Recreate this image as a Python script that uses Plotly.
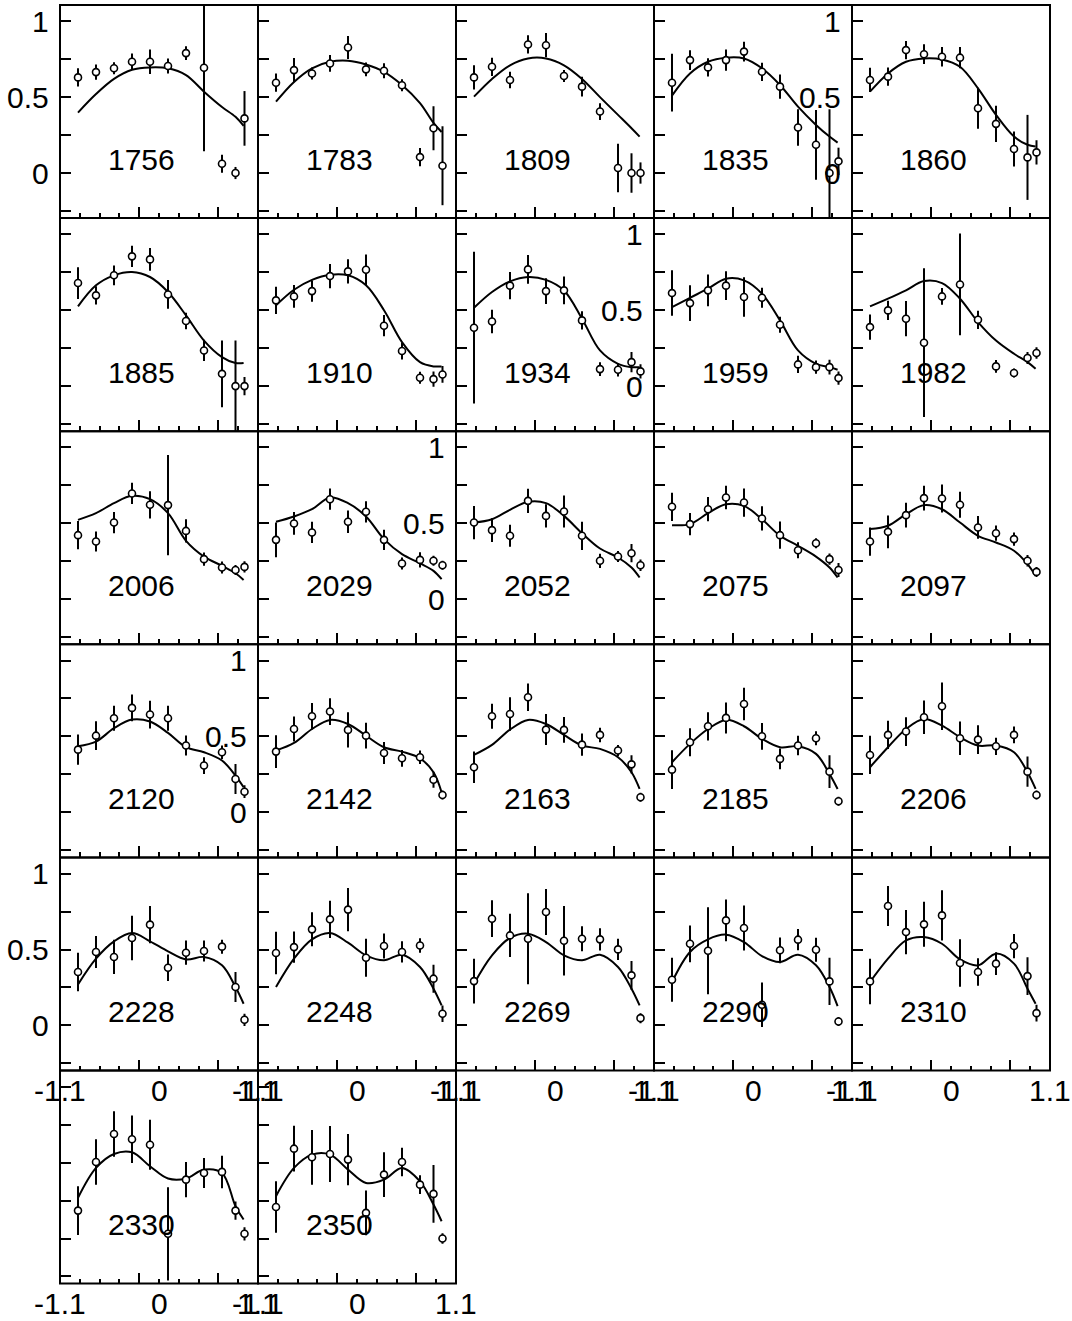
import plotly.graph_objects as go

# Beam energies (MeV) shown in each panel, in reading order
energies = [1756, 1783, 1809, 1835, 1860,
            1885, 1910, 1934, 1959, 1982,
            2006, 2029, 2052, 2075, 2097,
            2120, 2142, 2163, 2185, 2206,
            2228, 2248, 2269, 2290, 2310,
            2330, 2350]

# cos(theta) bin centres of the measured points and of the fit curve samples
cos_bins = [-0.9, -0.7, -0.5, -0.3, -0.1, 0.1, 0.3, 0.5, 0.7, 0.85, 0.95]
fit_x = [-0.9, -0.7, -0.5, -0.3, -0.1, 0.1, 0.3, 0.5, 0.7, 0.85, 0.94]

# measured values (y), uncertainties (e) and fit curve samples (f)
y1756 = [0.63, 0.665, 0.69, 0.733, 0.733, 0.705, 0.79, 0.694, 0.061, 0.0, 0.36]
e1756 = [0.06, 0.05, 0.04, 0.055, 0.08, 0.05, 0.045, 0.55, 0.06, 0.04, 0.18]
f1756 = [0.398, 0.52, 0.62, 0.68, 0.696, 0.69, 0.645, 0.536, 0.435, 0.37, 0.31]

y1783 = [0.595, 0.678, 0.656, 0.722, 0.827, 0.683, 0.674, 0.578, 0.105, 0.295, 0.048]
e1783 = [0.06, 0.08, 0.04, 0.055, 0.075, 0.045, 0.05, 0.04, 0.06, 0.145, 0.26]
f1783 = [0.47, 0.60, 0.69, 0.733, 0.74, 0.715, 0.667, 0.58, 0.46, 0.33, 0.27]

y1809 = [0.63, 0.70, 0.613, 0.847, 0.842, 0.639, 0.569, 0.405, 0.033, 0.0, 0.0]
e1809 = [0.08, 0.06, 0.055, 0.06, 0.08, 0.04, 0.065, 0.055, 0.16, 0.13, 0.07]
f1809 = [0.503, 0.62, 0.71, 0.755, 0.755, 0.71, 0.62, 0.50, 0.383, 0.295, 0.24]

y1835 = [0.595, 0.744, 0.696, 0.744, 0.80, 0.667, 0.569, 0.30, 0.186, 0.0, 0.077]
e1835 = [0.19, 0.065, 0.06, 0.07, 0.065, 0.06, 0.08, 0.12, 0.23, 0.42, 0.09]
f1835 = [0.51, 0.656, 0.733, 0.76, 0.755, 0.69, 0.58, 0.437, 0.317, 0.24, 0.20]

y1860 = [0.613, 0.635, 0.81, 0.783, 0.766, 0.76, 0.427, 0.324, 0.158, 0.103, 0.136]
e1860 = [0.08, 0.06, 0.06, 0.065, 0.065, 0.07, 0.135, 0.12, 0.115, 0.28, 0.08]
f1860 = [0.536, 0.656, 0.733, 0.755, 0.748, 0.70, 0.558, 0.383, 0.24, 0.186, 0.175]

y1885 = [0.679, 0.598, 0.73, 0.855, 0.835, 0.604, 0.429, 0.235, 0.081, 0.0, 0.0]
e1885 = [0.105, 0.06, 0.065, 0.07, 0.075, 0.095, 0.055, 0.07, 0.22, 0.30, 0.06]
f1885 = [0.525, 0.664, 0.73, 0.752, 0.719, 0.62, 0.466, 0.30, 0.191, 0.152, 0.152]

y1910 = [0.565, 0.591, 0.626, 0.725, 0.756, 0.767, 0.398, 0.231, 0.055, 0.046, 0.077]
e1910 = [0.09, 0.075, 0.07, 0.08, 0.08, 0.10, 0.07, 0.055, 0.04, 0.05, 0.055]
f1910 = [0.532, 0.635, 0.70, 0.734, 0.73, 0.664, 0.50, 0.29, 0.158, 0.13, 0.13]

y1934 = [0.385, 0.426, 0.662, 0.769, 0.626, 0.631, 0.433, 0.112, 0.108, 0.158, 0.097]
e1934 = [0.50, 0.077, 0.09, 0.095, 0.085, 0.092, 0.06, 0.046, 0.044, 0.066, 0.047]
f1934 = [0.516, 0.62, 0.69, 0.719, 0.70, 0.63, 0.444, 0.235, 0.147, 0.125, 0.125]

y1959 = [0.613, 0.547, 0.631, 0.662, 0.587, 0.582, 0.404, 0.143, 0.125, 0.125, 0.053]
e1959 = [0.15, 0.118, 0.105, 0.095, 0.13, 0.066, 0.053, 0.057, 0.044, 0.048, 0.044]
f1959 = [0.521, 0.582, 0.642, 0.708, 0.697, 0.609, 0.433, 0.235, 0.147, 0.125, 0.108]

y1982 = [0.389, 0.499, 0.444, 0.286, 0.591, 0.67, 0.437, 0.13, 0.086, 0.185, 0.218]
e1982 = [0.083, 0.064, 0.116, 0.49, 0.055, 0.335, 0.06, 0.042, 0.03, 0.04, 0.038]
f1982 = [0.525, 0.576, 0.631, 0.692, 0.679, 0.576, 0.422, 0.30, 0.213, 0.158, 0.114]

y2006 = [0.422, 0.38, 0.505, 0.697, 0.622, 0.62, 0.45, 0.264, 0.209, 0.193, 0.213]
e2006 = [0.093, 0.066, 0.07, 0.07, 0.09, 0.33, 0.077, 0.044, 0.04, 0.033, 0.037]
f2006 = [0.523, 0.567, 0.633, 0.681, 0.659, 0.567, 0.385, 0.281, 0.22, 0.171, 0.127]

y2029 = [0.391, 0.499, 0.44, 0.659, 0.51, 0.576, 0.391, 0.235, 0.259, 0.253, 0.224]
e2029 = [0.115, 0.075, 0.07, 0.07, 0.074, 0.07, 0.067, 0.04, 0.05, 0.033, 0.03]
f2029 = [0.51, 0.545, 0.593, 0.67, 0.633, 0.545, 0.396, 0.297, 0.237, 0.187, 0.132]

y2052 = [0.505, 0.455, 0.418, 0.648, 0.549, 0.578, 0.418, 0.253, 0.281, 0.303, 0.224]
e2052 = [0.11, 0.078, 0.073, 0.08, 0.077, 0.106, 0.093, 0.047, 0.036, 0.06, 0.038]
f2052 = [0.505, 0.527, 0.589, 0.642, 0.633, 0.549, 0.435, 0.334, 0.275, 0.209, 0.143]

y2075 = [0.609, 0.495, 0.593, 0.67, 0.637, 0.532, 0.422, 0.323, 0.369, 0.264, 0.193]
e2075 = [0.093, 0.073, 0.08, 0.077, 0.093, 0.08, 0.09, 0.053, 0.033, 0.037, 0.046]
f2075 = [0.488, 0.495, 0.567, 0.626, 0.615, 0.527, 0.418, 0.352, 0.281, 0.209, 0.143]

y2097 = [0.38, 0.444, 0.554, 0.666, 0.664, 0.622, 0.473, 0.435, 0.396, 0.253, 0.18]
e2097 = [0.093, 0.108, 0.082, 0.082, 0.092, 0.086, 0.075, 0.05, 0.044, 0.038, 0.033]
f2097 = [0.462, 0.484, 0.56, 0.62, 0.593, 0.505, 0.418, 0.374, 0.319, 0.231, 0.154]

y2120 = [0.413, 0.505, 0.62, 0.688, 0.644, 0.62, 0.44, 0.308, 0.396, 0.22, 0.136]
e2120 = [0.099, 0.095, 0.082, 0.088, 0.091, 0.082, 0.066, 0.055, 0.044, 0.099, 0.042]
f2120 = [0.435, 0.466, 0.554, 0.611, 0.598, 0.523, 0.429, 0.396, 0.341, 0.242, 0.165]

y2142 = [0.40, 0.549, 0.633, 0.664, 0.543, 0.505, 0.391, 0.356, 0.363, 0.215, 0.114]
e2142 = [0.108, 0.083, 0.088, 0.088, 0.116, 0.085, 0.072, 0.055, 0.044, 0.053, 0.03]
f2142 = [0.407, 0.457, 0.549, 0.609, 0.582, 0.505, 0.429, 0.40, 0.356, 0.264, 0.132]

y2163 = [0.297, 0.633, 0.648, 0.758, 0.545, 0.543, 0.446, 0.51, 0.407, 0.316, 0.099]
e2163 = [0.103, 0.082, 0.11, 0.09, 0.102, 0.085, 0.074, 0.048, 0.037, 0.06, 0.03]
f2163 = [0.378, 0.444, 0.545, 0.609, 0.582, 0.51, 0.44, 0.418, 0.363, 0.264, 0.154]

y2185 = [0.281, 0.462, 0.567, 0.622, 0.714, 0.501, 0.352, 0.44, 0.488, 0.268, 0.073]
e2185 = [0.128, 0.092, 0.093, 0.102, 0.107, 0.088, 0.068, 0.064, 0.046, 0.108, 0.03]
f2185 = [0.33, 0.451, 0.549, 0.609, 0.567, 0.484, 0.429, 0.435, 0.385, 0.253, 0.154]

y2206 = [0.378, 0.51, 0.532, 0.626, 0.699, 0.488, 0.479, 0.435, 0.51, 0.268, 0.114]
e2206 = [0.126, 0.093, 0.095, 0.11, 0.156, 0.11, 0.095, 0.057, 0.055, 0.099, 0.03]
f2206 = [0.297, 0.429, 0.549, 0.615, 0.571, 0.495, 0.44, 0.44, 0.396, 0.264, 0.154]

y2228 = [0.352, 0.484, 0.451, 0.576, 0.664, 0.38, 0.479, 0.49, 0.519, 0.253, 0.037]
e2228 = [0.127, 0.105, 0.113, 0.146, 0.123, 0.088, 0.08, 0.069, 0.046, 0.099, 0.04]
f2228 = [0.27, 0.44, 0.554, 0.609, 0.554, 0.488, 0.435, 0.451, 0.396, 0.253, 0.143]

y2248 = [0.477, 0.516, 0.633, 0.699, 0.763, 0.446, 0.523, 0.484, 0.527, 0.308, 0.077]
e2248 = [0.14, 0.103, 0.112, 0.123, 0.143, 0.125, 0.082, 0.07, 0.048, 0.092, 0.055]
f2248 = [0.253, 0.44, 0.567, 0.609, 0.545, 0.462, 0.429, 0.466, 0.385, 0.242, 0.132]

y2269 = [0.292, 0.703, 0.593, 0.571, 0.747, 0.558, 0.571, 0.567, 0.501, 0.33, 0.048]
e2269 = [0.148, 0.121, 0.143, 0.30, 0.152, 0.229, 0.083, 0.074, 0.07, 0.095, 0.033]
f2269 = [0.275, 0.462, 0.576, 0.604, 0.549, 0.462, 0.429, 0.466, 0.385, 0.242, 0.132]

y2290 = [0.301, 0.538, 0.492, 0.692, 0.642, 0.136, 0.495, 0.565, 0.499, 0.29, 0.026]
e2290 = [0.145, 0.121, 0.286, 0.138, 0.148, 0.147, 0.085, 0.07, 0.079, 0.156, 0.03]
f2290 = [0.286, 0.484, 0.567, 0.598, 0.549, 0.457, 0.418, 0.466, 0.396, 0.253, 0.127]

y2310 = [0.29, 0.787, 0.615, 0.666, 0.725, 0.411, 0.352, 0.407, 0.523, 0.325, 0.081]
e2310 = [0.15, 0.132, 0.146, 0.148, 0.165, 0.157, 0.09, 0.075, 0.08, 0.124, 0.055]
f2310 = [0.286, 0.44, 0.56, 0.582, 0.538, 0.435, 0.396, 0.473, 0.407, 0.242, 0.143]

y2330 = [0.184, 0.504, 0.689, 0.654, 0.618, 0.031, 0.388, 0.432, 0.439, 0.184, 0.031]
e2330 = [0.16, 0.15, 0.15, 0.157, 0.165, 0.307, 0.116, 0.099, 0.107, 0.06, 0.044]
f2330 = [0.268, 0.465, 0.557, 0.568, 0.476, 0.395, 0.395, 0.454, 0.432, 0.213, 0.125]

y2350 = [0.208, 0.592, 0.535, 0.557, 0.52, 0.169, 0.421, 0.504, 0.355, 0.294, 0.0]
e2350 = [0.17, 0.151, 0.18, 0.185, 0.169, 0.147, 0.147, 0.094, 0.062, 0.19, 0.035]
f2350 = [0.279, 0.465, 0.553, 0.553, 0.454, 0.366, 0.388, 0.465, 0.377, 0.224, 0.114]

panels = [
    (y1756, e1756, f1756), (y1783, e1783, f1783), (y1809, e1809, f1809),
    (y1835, e1835, f1835), (y1860, e1860, f1860), (y1885, e1885, f1885),
    (y1910, e1910, f1910), (y1934, e1934, f1934), (y1959, e1959, f1959),
    (y1982, e1982, f1982), (y2006, e2006, f2006), (y2029, e2029, f2029),
    (y2052, e2052, f2052), (y2075, e2075, f2075), (y2097, e2097, f2097),
    (y2120, e2120, f2120), (y2142, e2142, f2142), (y2163, e2163, f2163),
    (y2185, e2185, f2185), (y2206, e2206, f2206), (y2228, e2228, f2228),
    (y2248, e2248, f2248), (y2269, e2269, f2269), (y2290, e2290, f2290),
    (y2310, e2310, f2310), (y2330, e2330, f2330), (y2350, e2350, f2350),
]

# axis ticks and labels
y_ticks = [-0.25, 0, 0.25, 0.5, 0.75, 1]
y_labels = [(1, "1"), (0.5, "0.5"), (0, "0")]
x_major = [-0.22, 0.66]
x_minor = [-0.88, -0.66, -0.44, 0.0, 0.22, 0.44, 0.88]
x_labels = [(-1.1, "-1.1"), (0, "0"), (1.1, "1.1")]

# panels (row, col) whose y axis carries numbers; rows with x numbers
y_label_panels = {(0, 0), (0, 4), (1, 3), (2, 2), (3, 1), (4, 0)}
x_label_rows = {4, 5}

W, H = 1072, 1321
LEFT, COL_W = 60, 198
TOP, ROW_H = 5, 213.1
FONT = "Liberation Sans, Arial, Helvetica, sans-serif"
TXT = 30

fig = go.Figure()
layout = dict(
    width=W, height=H,
    margin=dict(l=0, r=0, t=0, b=0),
    paper_bgcolor="white", plot_bgcolor="white",
    showlegend=False,
    font=dict(family=FONT, size=TXT, color="black"),
)
annotations = []
shapes = []

for i, (vals, errs, fit) in enumerate(panels):
    row, col = divmod(i, 5)
    n = i + 1
    xs = "" if n == 1 else str(n)
    x0 = LEFT + col * COL_W
    x1 = x0 + COL_W
    top = TOP + row * ROW_H
    bot = top + ROW_H

    layout["xaxis" + xs] = dict(
        domain=[x0 / W, x1 / W], range=[-1.1, 1.1], anchor="y" + xs,
        showgrid=False, zeroline=False, showline=False,
        ticks="inside", tickmode="array", tickvals=x_major,
        ticklen=11, tickwidth=2, tickcolor="black", showticklabels=False,
        minor=dict(tickmode="array", tickvals=x_minor, ticks="inside",
                   ticklen=5, tickwidth=2, tickcolor="black"),
        fixedrange=True,
    )
    layout["yaxis" + xs] = dict(
        domain=[1 - bot / H, 1 - top / H], range=[-0.297, 1.107],
        anchor="x" + xs,
        showgrid=False, zeroline=False, showline=False,
        ticks="inside", tickmode="array", tickvals=y_ticks,
        ticklen=11, tickwidth=2, tickcolor="black", showticklabels=False,
        fixedrange=True,
    )

    # fit curve
    fig.add_trace(go.Scatter(
        x=fit_x, y=fit, mode="lines", xaxis="x" + xs, yaxis="y" + xs,
        line=dict(color="black", width=2, shape="spline"),
        hoverinfo="skip",
    ))
    # measured points with error bars
    fig.add_trace(go.Scatter(
        x=cos_bins, y=vals, mode="markers", xaxis="x" + xs, yaxis="y" + xs,
        marker=dict(symbol="circle", size=7, color="white",
                    line=dict(color="black", width=1.6)),
        error_y=dict(type="data", array=errs, visible=True,
                     color="black", thickness=2, width=0),
        cliponaxis=True,
    ))

    # panel frame
    shapes.append(dict(
        type="rect", xref="paper", yref="paper",
        x0=x0 / W, x1=x1 / W, y0=1 - bot / H, y1=1 - top / H,
        line=dict(color="black", width=2), layer="above",
    ))

    # energy label
    annotations.append(dict(
        text=str(energies[i]), xref="x" + xs, yref="y" + xs,
        x=-0.2, y=0.09, showarrow=False, xanchor="center", yanchor="middle",
        font=dict(family=FONT, size=TXT, color="black"),
    ))

    if (row, col) in y_label_panels:
        for v, t in y_labels:
            annotations.append(dict(
                text=t, xref="paper", yref="y" + xs, x=(x0 - 9) / W, y=v,
                showarrow=False, xanchor="right", yanchor="middle",
                font=dict(family=FONT, size=TXT, color="black"),
            ))

    if row in x_label_rows:
        for v, t in x_labels:
            annotations.append(dict(
                text=t, xref="x" + xs, yref="paper", x=v,
                y=1 - (bot + 20) / H,
                showarrow=False, xanchor="center", yanchor="middle",
                font=dict(family=FONT, size=TXT, color="black"),
            ))

layout["annotations"] = annotations
layout["shapes"] = shapes
fig.update_layout(**layout)

fig.write_html("out.html")
